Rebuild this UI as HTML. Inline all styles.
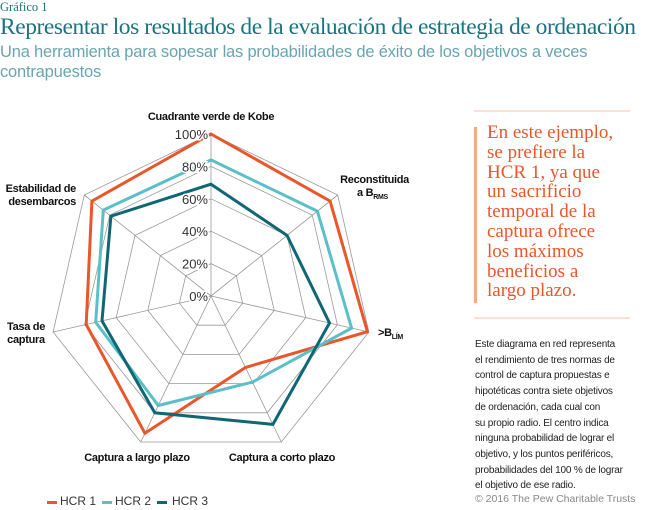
<!DOCTYPE html>
<html><head><meta charset="utf-8"><style>
body{margin:0;background:#fff;width:650px;height:510px;overflow:hidden;position:relative;font-family:"Liberation Sans",sans-serif}
.a{position:absolute;white-space:nowrap}
</style></head><body>
<div class="a" style="left:0;top:0;font-size:12.5px;color:#1a7480;font-family:'Liberation Serif',serif">Gráfico 1</div>
<div class="a" style="left:0;top:14px;font-size:23.5px;color:#1a7480;font-family:'Liberation Serif',serif;letter-spacing:-0.45px">Representar los resultados de la evaluación de estrategia de ordenación</div>
<div class="a" style="left:0;top:42px;font-size:16.5px;line-height:20px;color:#6aa4b0;white-space:normal;width:600px;letter-spacing:-0.2px">Una herramienta para sopesar las probabilidades de éxito de los objetivos a veces contrapuestos</div>

<div class="a" style="left:474px;top:110px;width:156px;height:2px;background:#fbe0d6"></div>
<div class="a" style="left:474px;top:127px;width:3px;height:176px;background:#f6a887"></div>
<div class="a" style="left:487px;top:123px;font-size:19px;line-height:19.8px;color:#e8562a;font-family:'Liberation Serif',serif">En este ejemplo,<br>se prefiere la<br>HCR 1, ya que<br>un sacrificio<br>temporal de la<br>captura ofrece<br>los máximos<br>beneficios a<br>largo plazo.</div>
<div class="a" style="left:474px;top:317px;width:156px;height:2px;background:#fbe0d6"></div>
<div class="a" style="left:475px;top:337px;font-size:10px;line-height:15.7px;color:#222;letter-spacing:-0.2px">Este diagrama en red representa<br>el rendimiento de tres normas de<br>control de captura propuestas e<br>hipotéticas contra siete objetivos<br>de ordenación, cada cual con<br>su propio radio. El centro indica<br>ninguna probabilidad de lograr el<br>objetivo, y los puntos periféricos,<br>probabilidades del 100 % de lograr<br>el objetivo de ese radio.</div>
<div class="a" style="left:475px;top:493px;font-size:10.5px;color:#888">© 2016 The Pew Charitable Trusts</div>

<svg id="s" class="a" style="left:0;top:0" width="470" height="510" font-family="Liberation Sans, sans-serif"></svg>

<div class="a" style="left:47px;top:501px;width:10px;height:3px;background:#e8562a"></div>
<div class="a" style="left:60px;top:494px;font-size:12px;color:#333">HCR 1</div>
<div class="a" style="left:102px;top:501px;width:10px;height:3px;background:#5bbfc8"></div>
<div class="a" style="left:115px;top:494px;font-size:12px;color:#333">HCR 2</div>
<div class="a" style="left:157px;top:501px;width:10px;height:3px;background:#0f6674"></div>
<div class="a" style="left:172px;top:494px;font-size:12px;color:#333">HCR 3</div>

<script>
var cx=211,cy=296,R=162,s='';
function pt(k,f){var a=(-90+360/7*k)*Math.PI/180;return [(cx+R*f*Math.cos(a)).toFixed(1),(cy+R*f*Math.sin(a)).toFixed(1)];}
for(var r=1;r<=5;r++){var p=[];for(var k=0;k<7;k++)p.push(pt(k,r/5).join(','));s+='<polygon points="'+p.join(' ')+'" fill="none" stroke="#999" stroke-width="0.8"/>';}
for(var k=0;k<7;k++){var q=pt(k,1);s+='<line x1="'+cx+'" y1="'+cy+'" x2="'+q[0]+'" y2="'+q[1]+'" stroke="#999" stroke-width="0.8"/>';}
var D=[[1,.94,.99,.49,.94,.79,.94,'#e8562a'],[.84,.84,.89,.59,.75,.73,.85,'#5bbfc8'],[.69,.60,.75,.88,.80,.69,.79,'#0f6674']];
D.forEach(function(d){var p=[];for(var k=0;k<7;k++)p.push(pt(k,d[k]).join(','));s+='<polygon points="'+p.join(' ')+'" fill="none" stroke="'+d[7]+'" stroke-width="3" stroke-linejoin="miter"/>';});
var L=['0%','20%','40%','60%','80%','100%'];
for(var i=0;i<6;i++){s+='<text x="208" y="'+(cy-i*32.4+5)+'" text-anchor="end" font-size="13" fill="#333" stroke="#fff" stroke-width="3" paint-order="stroke">'+L[i]+'</text>';}
var B='font-size="11" font-weight="bold" fill="#111" letter-spacing="-0.3"';
s+='<text x="211" y="120" text-anchor="middle" '+B+'>Cuadrante verde de Kobe</text>';
s+='<text x="409" y="183" text-anchor="end" '+B+'>Reconstituida</text>';
s+='<text x="357" y="196" '+B+'>a B<tspan font-size="7" dy="3">RMS</tspan></text>';
s+='<text x="378" y="336" '+B+'>&gt;B<tspan font-size="7" dy="3">LÍM</tspan></text>';
s+='<text x="282" y="461" text-anchor="middle" '+B+'>Captura a corto plazo</text>';
s+='<text x="137" y="461" text-anchor="middle" '+B+'>Captura a largo plazo</text>';
s+='<text x="26" y="330" text-anchor="middle" '+B+'>Tasa de</text><text x="26" y="343" text-anchor="middle" '+B+'>captura</text>';
s+='<text x="76" y="192" text-anchor="end" '+B+'>Estabilidad de</text><text x="76" y="205" text-anchor="end" '+B+'>desembarcos</text>';
document.getElementById('s').innerHTML=s;
</script>
</body></html>
